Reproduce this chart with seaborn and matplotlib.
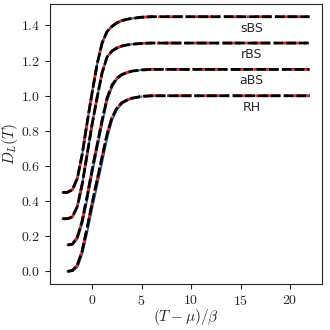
import matplotlib
matplotlib.use('Agg')
import matplotlib.pyplot as plt
import seaborn as sns

# x grid for the curves (T - mu) / beta
x_vals = [-3.0, -2.5, -2.0, -1.5, -1.0, -0.5, 0.0, 0.5, 1.0, 1.5, 2.0,
          2.5, 3.0, 3.5, 4.0, 5.0, 6.0, 8.0, 10.0, 14.0, 18.0, 22.0]

# curve values above their own baseline
rh_rel = [None, 0.0, 0.005, 0.035, 0.12, 0.25, 0.39, 0.52, 0.65, 0.78,
          0.875, 0.93, 0.96, 0.975, 0.986, 0.996, 1.0, 1.0, 1.0, 1.0, 1.0, 1.0]
abs_rel = [None, 0.0, 0.005, 0.045, 0.14, 0.28, 0.43, 0.57, 0.71, 0.835,
           0.91, 0.95, 0.97, 0.982, 0.99, 0.997, 1.0, 1.0, 1.0, 1.0, 1.0, 1.0]
rbs_rel = [0.0, 0.0, 0.01, 0.07, 0.2, 0.37, 0.54, 0.69, 0.83, 0.92,
           0.955, 0.972, 0.983, 0.989, 0.993, 0.998, 1.0, 1.0, 1.0, 1.0, 1.0, 1.0]
sbs_rel = [0.0, 0.0, 0.015, 0.08, 0.22, 0.40, 0.57, 0.73, 0.85, 0.915,
           0.945, 0.965, 0.978, 0.985, 0.99, 0.997, 1.0, 1.0, 1.0, 1.0, 1.0, 1.0]

# blue (solid) curves, only visible in the rising part (x <= 5)
rh_blue = [None, 0.0, 0.003, 0.025, 0.1, 0.225, 0.36, 0.49, 0.62, 0.755,
           0.86, 0.92, 0.955, 0.972, 0.985, 0.996]
abs_blue = [None, 0.0, 0.004, 0.035, 0.125, 0.26, 0.41, 0.55, 0.69, 0.82,
            0.90, 0.945, 0.968, 0.98, 0.99, 0.997]
rbs_blue = rbs_rel[:16]
sbs_blue = sbs_rel[:16]

names = ['RH', 'aBS', 'rBS', 'sBS']
offsets = [0.0, 0.15, 0.30, 0.45]
curves = [rh_rel, abs_rel, rbs_rel, sbs_rel]
blues = [rh_blue, abs_blue, rbs_blue, sbs_blue]

sns.set_style('ticks')
plt.rcParams['font.family'] = 'serif'
plt.rcParams['font.serif'] = ['cmr10']
plt.rcParams['mathtext.fontset'] = 'cm'
plt.rcParams['axes.formatter.use_mathtext'] = True
plt.rcParams['font.size'] = 10

fig, ax = plt.subplots(figsize=(3.3, 3.3), dpi=100)
fig.subplots_adjust(left=0.152, right=0.976, top=0.988, bottom=0.139)

for name, off, rel, blue in zip(names, offsets, curves, blues):
    xs = [x for x, r in zip(x_vals, rel) if r is not None]
    ys = [r + off for r in rel if r is not None]
    xb = [x for x, r in zip(x_vals, blue) if r is not None]
    yb = [r + off for r in blue if r is not None]
    sns.lineplot(x=xb, y=yb, ax=ax, color='C0', lw=1.5, estimator=None,
                 sort=False)
    sns.lineplot(x=xs, y=ys, ax=ax, color='C3', lw=2.0, ls='-.',
                 estimator=None, sort=False)
    sns.lineplot(x=xs, y=ys, ax=ax, color='black', lw=2.0,
                 ls=(0, (3.5, 1.1)), estimator=None, sort=False)
    ax.text(16.1, off + 1 - 0.065, name, ha='center', va='center',
            fontsize=9, family='DejaVu Sans')

ax.set_xticks([0, 5, 10, 15, 20])
ax.set_xlabel(r'$(T-\mu)/\beta$', fontsize=11)
ax.set_ylabel(r'$D_L(T)$', fontsize=11)
ax.xaxis.set_label_coords(0.5, -0.082)
ax.yaxis.set_label_coords(-0.11, 0.5)

plt.savefig('out.png', dpi=100)
